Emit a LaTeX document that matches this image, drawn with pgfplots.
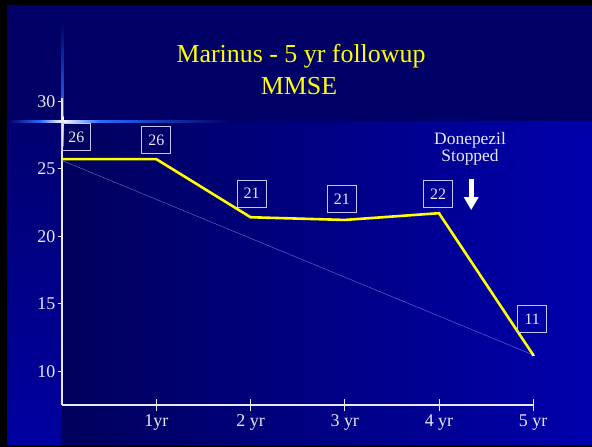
\documentclass[border=0pt]{standalone}
\usepackage{pgfplots}
\pgfplotsset{compat=1.18}
\usetikzlibrary{arrows.meta}
\usepackage{fontspec}
\setmainfont{Liberation Serif}

\definecolor{band}{HTML}{000066}
\definecolor{stripTop}{HTML}{000070}
\definecolor{stripBot}{HTML}{0000A0}
\definecolor{fieldL}{HTML}{00005C}
\definecolor{fieldR}{HTML}{0000AC}
\definecolor{glow}{HTML}{2A6AFF}
\definecolor{ink}{HTML}{E8E8F4}
\definecolor{thinblue}{HTML}{6060C8}
\definecolor{mmse}{HTML}{FFFF00}

\begin{document}
\begin{tikzpicture}[x=1bp,y=1bp,
  valbox/.style={draw=ink!85!blue, line width=0.8bp, text=ink,
    font=\fontsize{16}{18}\selectfont, minimum width=29bp, minimum height=27bp,
    inner sep=0pt}]
\useasboundingbox (0,0) rectangle (592,447);
% slide background
\fill[black] (0,0) rectangle (592,447);
\fill[band] (7,325) rectangle (592,442);
\shade[top color=stripTop, bottom color=stripBot] (7,2) rectangle (62,325);
\shade[left color=fieldL, right color=fieldR] (62,2) rectangle (592,325);
% light streaks at the corner of the band
\shade[left color=band, right color=glow] (8,324) rectangle (40,326);
\shade[left color=glow, right color=white] (40,324) rectangle (62,326);
\shade[left color=white, right color=glow] (62,324) rectangle (100,326);
\shade[left color=glow, right color=band] (100,324) rectangle (230,326);
\shade[top color=band, bottom color=glow] (61,330) rectangle (63.5,425);
\shade[top color=white, bottom color=glow] (61,300) rectangle (63.5,330);

% title
\node[anchor=base, text=mmse, font=\fontsize{26}{30}\selectfont] at (301,384) {Marinus - 5 yr followup};
\node[anchor=base, text=mmse, font=\fontsize{26}{30}\selectfont] at (299,352) {MMSE};

\begin{axis}[
  at={(66,31)}, anchor=south west,
  scale only axis, width=471bp, height=306.7bp,
  xmin=0, xmax=5, ymin=7.48, ymax=30.2,
  axis lines*=left,
  axis line style={draw=ink, line width=1.4bp},
  xtick={1,2,3,4,5},
  xticklabels={1yr,2 yr,3 yr,4 yr,5 yr},
  ytick={10,15,20,25,30},
  xtick align=center, ytick align=outside,
  xtick style={draw=ink, line width=0.8bp, /pgfplots/major tick length=12bp},
  ytick style={draw=ink, line width=0.8bp, /pgfplots/major tick length=4bp},
  /pgf/number format/assume math mode=true,
  xticklabel style={text=ink, font=\fontsize{18}{20}\selectfont, anchor=base, yshift=-19bp},
  yticklabel style={text=ink, font=\fontsize{18}{20}\selectfont, anchor=east, xshift=1bp},
  clip=false,
]
% straight decline from first to last visit
\addplot[thinblue, line width=0.5bp, mark=triangle*, mark indices={2},
  mark options={white, scale=0.7}] coordinates {(0,25.6) (5,11.2)};
% MMSE scores
\addplot[mmse, line width=2.6bp] coordinates {
  (0,25.7) (1,25.7) (2,21.4) (3,21.2) (4,21.7) (5,11.2)};

\node[valbox] at (axis cs:0.15,27.33) {26};
\node[valbox] at (axis cs:1.00,27.10) {26};
\node[valbox] at (axis cs:2.01,23.15) {21};
\node[valbox] at (axis cs:2.97,22.74) {21};
\node[valbox] at (axis cs:3.99,23.10) {22};
\node[valbox] at (axis cs:4.99,13.85) {11};

\node[align=center, text=ink, font=\fontsize{17.5}{17}\selectfont]
  at (axis cs:4.33,26.45) {Donepezil\\Stopped};
\draw[white, line width=5bp, -{Triangle[width=14bp,length=13bp]}]
  (axis cs:4.342,24.22) -- (axis cs:4.342,21.93);
\end{axis}
\end{tikzpicture}
\end{document}
